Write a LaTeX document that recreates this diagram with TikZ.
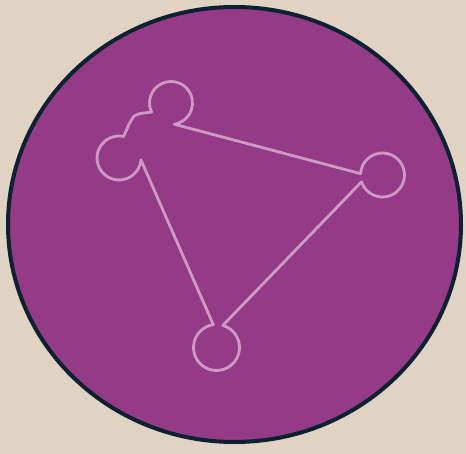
\documentclass[tikz,border=0pt]{standalone}
\usepackage{xcolor}
\usepackage{tikz}
\usetikzlibrary{calc}
\definecolor{sandbg}{RGB}{224,211,195}
\definecolor{plumdisc}{RGB}{148,58,134}
\definecolor{navyrim}{RGB}{12,34,48}
\definecolor{pinkline}{RGB}{206,152,200}

\begin{document}
\begin{tikzpicture}[x=1pt,y=-1pt,
  disc/.style={fill=plumdisc,draw=navyrim,line width=4pt},
  glyph/.style={draw=pinkline,line width=2.8pt,line join=round}]
\fill[sandbg] (0,0) rectangle (466,454);
\useasboundingbox (0,0) rectangle (466,454);
\coordinate (o) at (234.5,224.5);
\draw[disc] (o) ellipse [x radius=226.5,y radius=217.5];
% graph glyph: four rings joined as one outline
\coordinate (t) at (171,103);
\coordinate (l) at (119,158);
\coordinate (r) at (382.5,175);
\coordinate (b) at (216.5,347.5);
\draw[glyph] ($(t)+(155:21.5)$) arc[start angle=155,end angle=441,radius=21.5]
  -- ($(r)+(183.6:22)$) arc[start angle=183.6,end angle=522,radius=22]
  -- ($(b)+(286:23)$) arc[start angle=286,end angle=622,radius=23]
  -- ($(l)+(5:22)$) arc[start angle=5,end angle=282,radius=22]
  -- (127,129) -- (129,124) -- (134,116) -- (140,113.5) -- cycle;
\end{tikzpicture}
\end{document}
